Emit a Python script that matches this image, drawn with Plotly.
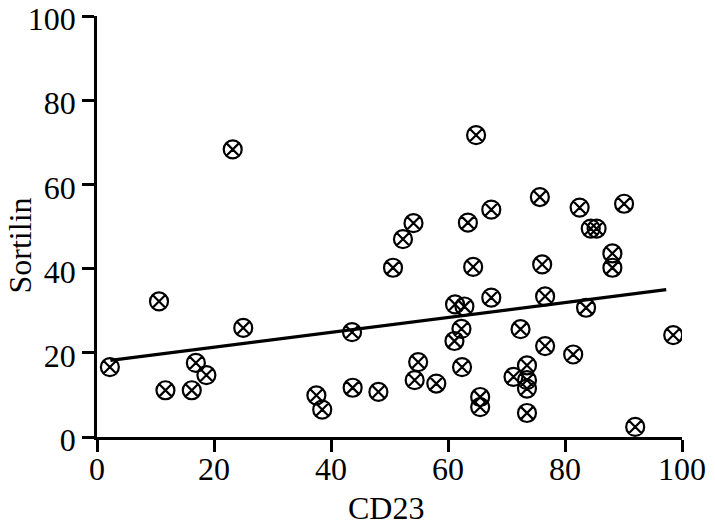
import plotly.graph_objects as go

# CD23 (x) and Sortilin (y) values
cd23 = [2.2, 10.6, 11.7, 16.2, 16.9, 18.7, 23.2, 25.0, 37.5, 38.5,
        43.6, 43.7, 48.1, 50.6, 52.3, 54.1, 54.3, 54.9, 58.0, 61.1,
        61.2, 62.3, 62.4, 62.8, 63.4, 64.3, 64.8, 65.5, 65.5, 67.4,
        67.4, 71.2, 72.4, 73.5, 73.5, 73.5, 73.5, 75.7, 76.1, 76.6,
        76.6, 81.4, 82.5, 83.6, 84.4, 85.4, 88.1, 88.1, 90.1, 92.0,
        98.5]
sortilin = [16.6, 32.2, 11.1, 11.1, 17.6, 14.7, 68.3, 25.9, 9.9, 6.5,
            24.9, 11.7, 10.7, 40.2, 47.0, 50.8, 13.5, 17.8, 12.7, 22.8,
            31.5, 25.7, 16.6, 31.0, 50.9, 40.4, 71.7, 9.5, 7.1, 54.0,
            33.1, 14.3, 25.6, 17.0, 13.5, 11.5, 5.7, 57.0, 41.0, 33.4,
            21.6, 19.6, 54.5, 30.7, 49.5, 49.5, 43.6, 40.2, 55.4, 2.4,
            24.2]

# Regression line end points
fit_x = [2.3, 97.3]
fit_y = [18.2, 35.0]

x_ticks = [0, 20, 40, 60, 80, 100]
y_ticks = [0, 20, 40, 60, 80, 100]

x_title = "CD23"
y_title = "Sortilin"

font_family = "Liberation Serif"
fsize = 32

fig = go.Figure()
fig.add_trace(go.Scatter(
    x=fit_x, y=fit_y, mode="lines",
    line=dict(color="black", width=3.2),
    showlegend=False, hoverinfo="skip"))
fig.add_trace(go.Scatter(
    x=cd23, y=sortilin, mode="markers",
    marker=dict(symbol="circle-x-open", size=18, color="black",
                line=dict(color="black", width=2.2)),
    showlegend=False))

axis_common = dict(
    showgrid=False, zeroline=False, showline=True,
    linecolor="black", linewidth=2.5,
    ticks="outside", ticklen=12, tickwidth=2.5, tickcolor="black",
    tickfont=dict(family=font_family, size=fsize, color="black"),
    range=[0, 100], automargin=False,
)

title_font = dict(family=font_family, size=fsize, color="black")

fig.update_layout(
    template="simple_white",
    width=715, height=523,
    margin=dict(l=89, r=41, t=8, b=94),
    paper_bgcolor="white", plot_bgcolor="white",
    xaxis=dict(**axis_common, tickvals=x_ticks,
               ticktext=[str(v) for v in x_ticks],
               ticklabeloverflow="allow", ticklabelstandoff=-10),
    yaxis=dict(**axis_common, tickvals=y_ticks,
               ticktext=[str(v) for v in y_ticks],
               ticklabeloverflow="allow", ticklabelshift=3),
    annotations=[
        dict(text=x_title, xref="paper", yref="paper", x=0.494, y=-0.1734,
             yshift=2, xanchor="center", yanchor="middle", showarrow=False,
             font=title_font),
        dict(text=y_title, xref="paper", yref="paper", x=0, y=0.4549,
             xshift=-77, xanchor="center", yanchor="middle", showarrow=False,
             textangle=-90, font=title_font),
    ],
)

fig.write_html("out.html")
